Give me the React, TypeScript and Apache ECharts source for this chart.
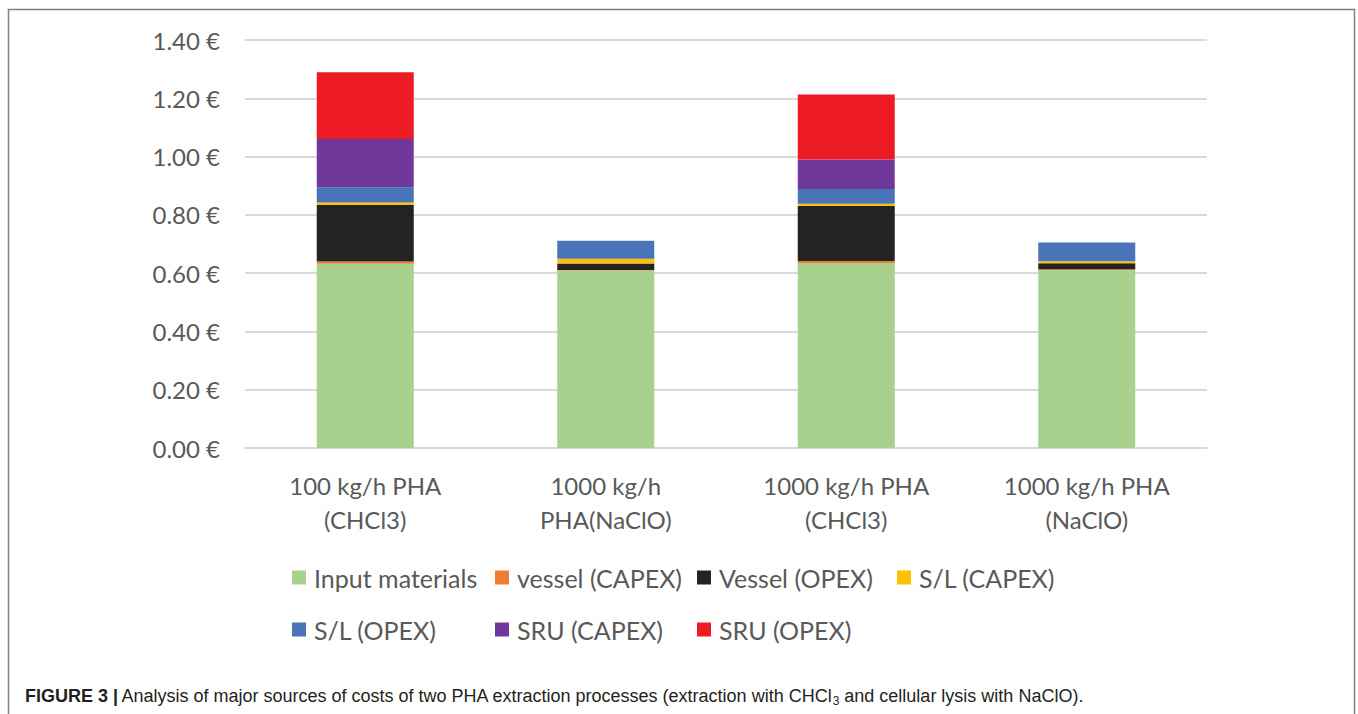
import React, { useEffect, useRef } from "react";
import * as echarts from "echarts";

const categories = [
  "100 kg/h PHA\n(CHCl3)",
  "1000 kg/h\nPHA(NaClO)",
  "1000 kg/h PHA\n(CHCl3)",
  "1000 kg/h PHA\n(NaClO)",
];
const seriesNames = [
  "Input materials",
  "vessel (CAPEX)",
  "Vessel (OPEX)",
  "S/L (CAPEX)",
  "S/L (OPEX)",
  "SRU (CAPEX)",
  "SRU (OPEX)",
];
const inputMaterials = [0.632, 0.609, 0.635, 0.611];
const vesselCapex = [0.008, 0.002, 0.007, 0.002];
const vesselOpex = [0.194, 0.022, 0.188, 0.021];
const slCapex = [0.008, 0.016, 0.008, 0.007];
const slOpex = [0.053, 0.062, 0.051, 0.064];
const sruCapex = [0.165, 0, 0.101, 0];
const sruOpex = [0.229, 0, 0.223, 0];
const seriesValues = [inputMaterials, vesselCapex, vesselOpex, slCapex, slOpex, sruCapex, sruOpex];
const colors = ["#A8D18D", "#ED7D31", "#232323", "#FFC000", "#4A74B8", "#70389A", "#ED1C24"];
const yTicks = { min: 0, max: 1.4, interval: 0.2 };

const legendPos = [
  [292, 580], [495, 580], [697, 580], [897, 580],
  [292, 632], [495, 632], [697, 632],
];

export default function App() {
  const ref = useRef<HTMLDivElement>(null);
  useEffect(() => {
    if (!ref.current) return;
    const chart = echarts.init(ref.current, null, { renderer: "svg" });
    const font = "Lato, 'Open Sans', sans-serif";
    const capFont = "'Liberation Sans', Arial, sans-serif";
    chart.setOption({
      animation: false,
      backgroundColor: "#fff",
      grid: { left: 245, right: 151, top: 40, bottom: 266, containLabel: false },
      xAxis: {
        type: "category",
        data: categories,
        axisLine: { lineStyle: { color: "#D9D9D9", width: 2 } },
        axisTick: { show: false },
        axisLabel: { color: "#595959", fontSize: 24, fontFamily: font, lineHeight: 34, margin: 20 },
      },
      yAxis: {
        type: "value",
        min: yTicks.min,
        max: yTicks.max,
        interval: yTicks.interval,
        axisLine: { show: false },
        axisTick: { show: false },
        splitLine: { lineStyle: { color: "#D9D9D9", width: 2 } },
        axisLabel: {
          color: "#595959",
          fontSize: 24,
          fontFamily: font,
          margin: 25,
          formatter: (v: number) => v.toFixed(2) + " €",
        },
      },
      legend: seriesNames.map((n, i) => ({
        data: [n],
        left: legendPos[i][0],
        top: legendPos[i][1] - 15,
        itemWidth: 14,
        itemHeight: 14,
        icon: "rect",
        padding: 0,
        selectedMode: false,
        textStyle: { color: "#595959", fontSize: 25, fontFamily: font, padding: [0, 0, 0, 3] },
      })),
      series: seriesNames.map((n, i) => ({
        name: n,
        type: "bar",
        stack: "total",
        barWidth: 97,
        data: seriesValues[i],
        itemStyle: { color: colors[i] },
        emphasis: { disabled: true },
      })),
      graphic: [
        {
          type: "rect",
          shape: { x: 8.5, y: 9.5, width: 1346, height: 720 },
          style: { fill: "none", stroke: "#808080", lineWidth: 1.5 },
          silent: true,
        },
        {
          type: "text",
          left: 25,
          top: 687,
          style: {
            text: "{b|FIGURE 3 |} {n|Analysis of major sources of costs of two PHA extraction processes (extraction with CHCl}{s|3}{n| and cellular lysis with NaClO).}",
            rich: {
              b: { fontFamily: capFont, fontWeight: "bold", fontSize: 18, fill: "#231F20" },
              n: { fontFamily: capFont, fontSize: 18, fill: "#231F20" },
              s: { fontFamily: capFont, fontSize: 12, fill: "#231F20", padding: [9, 0, 0, 0] },
            },
          },
        },
      ],
    });
    return () => chart.dispose();
  }, []);
  return (
    <div
      ref={ref}
      style={{ position: "fixed", left: 0, top: 0, width: 1358, height: 714 }}
    />
  );
}
